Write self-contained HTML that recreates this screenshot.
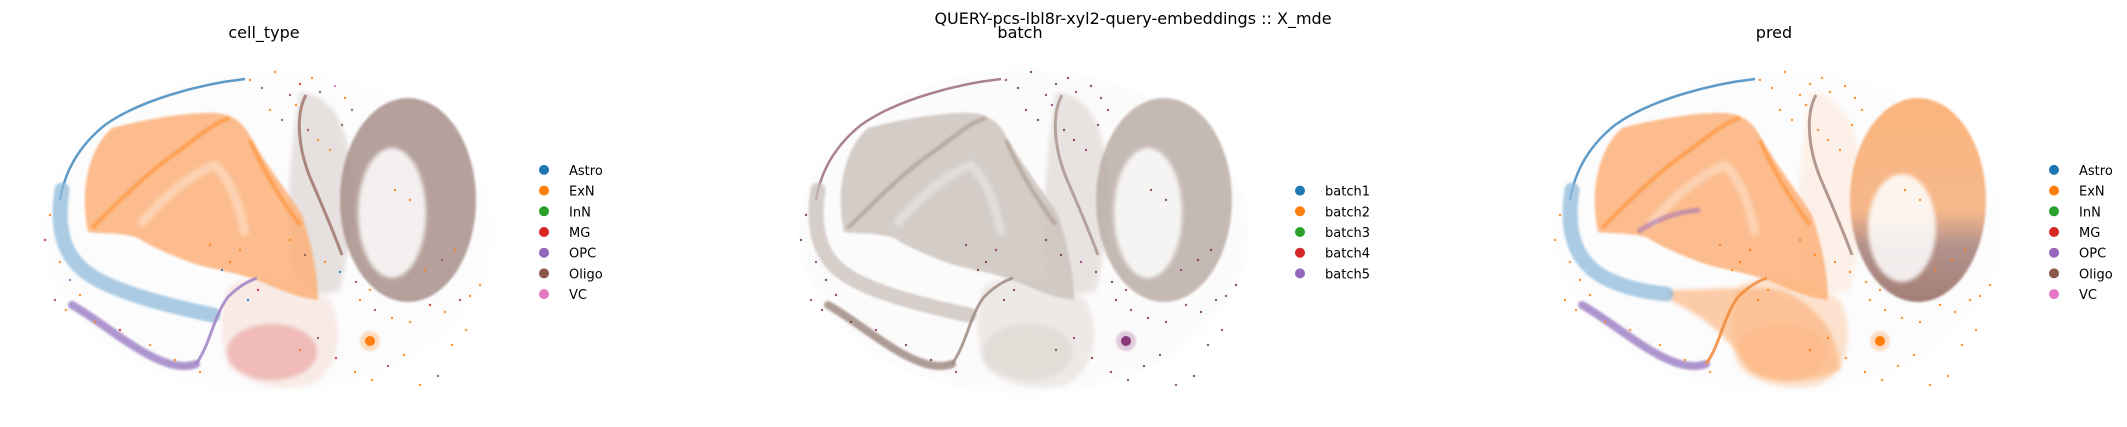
<!DOCTYPE html>
<html><head><meta charset="utf-8"><style>
html,body{margin:0;padding:0;background:#fff;}
svg{display:block;font-family:"DejaVu Sans","Liberation Sans",sans-serif;}
</style></head><body>
<svg id="fig" width="2127" height="427" viewBox="0 0 2127 427" xmlns="http://www.w3.org/2000/svg">
<defs>
<filter id="soft" x="-20%" y="-20%" width="140%" height="140%"><feGaussianBlur stdDeviation="2"/></filter>
<filter id="soft1" x="-20%" y="-20%" width="140%" height="140%"><feGaussianBlur stdDeviation="1"/></filter>
<linearGradient id="kid3" x1="0" y1="0" x2="0" y2="1">
<stop offset="0" stop-color="#fba866"/><stop offset="0.55" stop-color="#f5ad78"/><stop offset="0.72" stop-color="#a88078"/><stop offset="1" stop-color="#94695f"/></linearGradient>
</defs>
<text x="1133" y="24" font-size="16" text-anchor="middle" fill="#000">QUERY-pcs-lbl8r-xyl2-query-embeddings :: X_mde</text>
</svg>
<script>
// Embedding categories and legend labels
const cellTypes = ["Astro","ExN","InN","MG","OPC","Oligo","VC"];
const cellColors = ["#1f77b4","#ff7f0e","#2ca02c","#d62728","#9467bd","#8c564b","#e377c2"];
const batches = ["batch1","batch2","batch3","batch4","batch5"];
const batchColors = ["#1f77b4","#ff7f0e","#2ca02c","#d62728","#9467bd"];
const panelTitles = ["cell_type","batch","pred"];
// scattered outlier cells (panel-local embedding coords) and their category index
const dotX = [250,262,275,290,300,312,320,335,345,352,270,282,296,308,318,330,342,360,375,392,410,430,445,460,470,480,300,318,336,355,372,388,404,420,438,452,466,248,258,240,230,222,210,50,45,60,70,80,55,66,95,120,150,175,200,290,305,325,340,356,370,395,410,425,442,455];
const dotY = [80,88,72,95,84,78,92,86,98,110,110,120,105,130,140,150,125,300,310,318,322,305,312,300,296,285,350,338,358,372,380,366,355,385,376,345,330,300,290,250,262,270,245,215,240,262,280,295,300,310,322,330,345,360,372,240,255,262,272,282,290,190,200,270,260,250];
const dotCat = [1,5,1,5,3,1,5,6,1,5,1,5,1,5,1,1,5,1,5,1,1,3,1,5,1,1,1,5,3,1,1,5,1,1,5,1,1,0,3,1,1,0,1,1,3,1,4,1,5,1,1,3,1,1,1,1,5,1,0,5,1,1,1,1,5,1];

const svg = document.getElementById('fig');
const NS = 'http://www.w3.org/2000/svg';
function mk(tag, attrs, parent){
  const e = document.createElementNS(NS, tag);
  for (const k in attrs) e.setAttribute(k, attrs[k]);
  parent.appendChild(e);
  return e;
}
const offsets = [0, 756, 1510];

const schemes = [
  {exn:"#fdb27a", exnEdge:"#ff8c2a", astro:"#8fbbdb", astroThin:"#2a7ab5", opc:"#a083c6", mg:"#ea9a9a", kid:"#a9908a", hole:"#fff", strand:"#8c564b", blob:"#ff7f0e"},
  {exn:"#cdc4be", exnEdge:"#a89488", astro:"#c9bfb9", astroThin:"#8e5a66", opc:"#a08c84", mg:"#d8cfc9", kid:"#bcaea7", hole:"#fff", strand:"#9a8077", blob:"#8a3a7a"},
  {exn:"#fdb27a", exnEdge:"#ff8c2a", astro:"#8fbbdb", astroThin:"#2a7ab5", opc:"#a083c6", mg:"#fdbd8a", kid:"url(#kid3)", hole:"#fff", strand:"#8c6a62", blob:"#ff7f0e"}
];

offsets.forEach((ox, p) => {
  const s = schemes[p];
  const g = mk('g', {transform:`translate(${ox},0)`}, svg);
  
  

  const t = mk('text', {x:264, y:38, 'font-size':16, 'text-anchor':'middle', fill:'#000'}, g);
  t.textContent = panelTitles[p];
  
  

  const plot = mk('g', {}, g);
  
  

  const halo = mk('ellipse', {cx:268, cy:232, rx:225, ry:162, fill: p===1 ? '#f7f5f4' : '#f8f9fb', opacity:0.35, filter:'url(#soft)'}, plot);
  
  

  const haze = mk('path', {d:"M300,92 C330,95 345,120 350,160 C355,200 350,250 340,290 C320,300 300,290 290,270 C285,220 290,150 300,92 Z", fill: p===2 ? '#fdd0ac' : s.kid, opacity: p===1 ? 0.3 : 0.25, filter:'url(#soft)'}, plot);
  
  

  const mid = mk('path', {d:"M230,285 C260,270 300,280 330,300 C345,330 340,370 310,385 C280,392 245,385 228,365 C218,335 220,300 230,285 Z", fill: p===0 ? '#f3d2c6' : s.mg, opacity:0.4, filter:'url(#soft)'}, plot);
  
  

  const mg = mk('ellipse', {cx:272, cy:352, rx:45, ry:28, fill:s.mg, opacity: p===0 ? 0.6 : 0.45, filter:'url(#soft)'}, plot);
  
  

  const kid = mk('ellipse', {cx:408, cy:200, rx:68, ry:102, fill:s.kid, opacity:0.85, filter:'url(#soft1)'}, plot);
  
  
  const hole = mk('ellipse', {cx:392, cy: p===2 ? 228 : 213, rx:34, ry: p===2 ? 54 : 65, fill:s.hole, opacity:0.85, filter:'url(#soft)'}, plot);
  
  
  const strand = mk('path', {d:"M306,95 C295,115 298,150 312,182 C322,205 332,228 342,255", fill:'none', stroke:s.strand, 'stroke-width':3, opacity:0.65}, plot);
  
  

  const exn = mk('path', {d:"M88,232 C78,185 92,145 112,128 C150,118 190,112 215,113 C235,114 245,125 252,140 C270,170 290,195 302,215 C312,245 318,275 318,300 C300,298 285,292 262,282 C235,272 215,270 195,264 C170,255 150,246 138,238 C120,232 100,234 88,232 Z", fill:s.exn, opacity:0.85, filter:'url(#soft1)'}, plot);
  
  
  const ridge = mk('path', {d:"M92,228 C120,200 150,170 180,150 C200,135 215,122 230,118 M250,140 C265,175 285,205 300,225", fill:'none', stroke:s.exnEdge, 'stroke-width':4, opacity:0.6, filter:'url(#soft1)'}, plot);
  
  
  const valley = mk('path', {d:"M140,225 C165,195 190,175 215,165 C230,180 240,205 245,235", fill:'none', stroke:'#fff', 'stroke-width':9, opacity:0.35, filter:'url(#soft)'}, plot);
  
  

  if (p === 2) {
    const ext = mk('path', {d:"M160,290 C200,290 240,285 270,290 C300,300 330,330 330,370 C300,385 260,385 240,370 C220,340 200,320 160,300 Z", fill:s.exn, opacity:0.65, filter:'url(#soft)'}, plot);
    
    
    const opcStreak = mk('path', {d:"M128,232 C145,220 165,212 190,210", fill:'none', stroke:'#9467bd', 'stroke-width':5, opacity:0.5, filter:'url(#soft1)'}, plot);
    
    
  }

  const aThin = mk('path', {d:"M245,79 C200,84 140,100 105,125 C80,145 65,170 60,200", fill:'none', stroke:s.astroThin, 'stroke-width':2.5, opacity:0.75}, plot);
  
  
  const aThick = mk('path', {d: p===2 ? "M62,190 C56,230 64,258 90,275 C110,287 135,292 156,294" : "M62,190 C56,230 64,258 90,275 C115,292 165,305 213,315", fill:'none', stroke:s.astro, 'stroke-width':15, 'stroke-linecap':'round', opacity:0.75, filter:'url(#soft1)'}, plot);
  
  

  const opc1 = mk('path', {d:"M72,305 C95,318 115,335 140,350 C160,362 180,370 196,364", fill:'none', stroke:s.opc, 'stroke-width':8, 'stroke-linecap':'round', opacity:0.85, filter:'url(#soft1)'}, plot);
  
  
  const opc2 = mk('path', {d:"M196,364 C210,345 214,315 228,297 C238,287 248,281 257,278", fill:'none', stroke: p===2 ? '#f08a3a' : s.opc, 'stroke-width':3, opacity:0.85}, plot);
  
  

  const bh = mk('circle', {cx:370, cy:341, r:10, fill:s.blob, opacity:0.25, filter:'url(#soft1)'}, plot);
  
  
  const b = mk('circle', {cx:370, cy:341, r:5, fill:s.blob}, plot);
  
  

  for (let i = 0; i < dotX.length; i++) {
    let col;
    if (p === 0) col = cellColors[dotCat[i]];
    else if (p === 1) col = (i % 3 === 0) ? '#8a3a7a' : '#7a3a3a';
    else col = '#ff7f0e';
    const d = mk('circle', {cx:dotX[i], cy:dotY[i], r:1.2, fill:col, opacity:0.85}, plot);
    
    
  }

  const labels = p === 1 ? batches : cellTypes;
  const colors = p === 1 ? batchColors : cellColors;
  const startY = 232 - (labels.length - 1) / 2 * 20.7;
  const lg = mk('g', {}, g);
  
  
  labels.forEach((lab, i) => {
    const y = startY + i * 20.7;
    const e = mk('g', {}, lg);
    
    
    mk('circle', {cx:544, cy:y, r:5, fill:colors[i]}, e);
    const tx = mk('text', {x:569, y:y + 5, 'font-size':13, fill:'#000'}, e);
    tx.textContent = lab;
  });
});
</script>
</body></html>
